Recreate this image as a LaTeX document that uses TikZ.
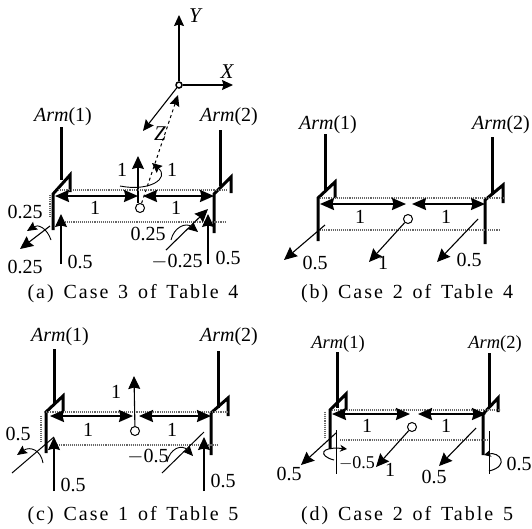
\documentclass[tikz,border=0pt]{standalone}
\usepackage{fontspec}
\setmainfont{Liberation Serif}
\newfontfamily\capfont[LetterSpace=10,WordSpace=1.4]{Liberation Serif}
\usetikzlibrary{arrows.meta}
\tikzset{
  x=1pt,y=-1pt,
  lab/.style={inner sep=0pt,font=\fontsize{20}{20}\selectfont},
  itlab/.style={inner sep=0pt,font=\itshape\fontsize{21}{21}\selectfont},
  armlab/.style={inner sep=0pt,font=\fontsize{20}{20}\selectfont},
  armlabs/.style={inner sep=0pt,font=\fontsize{18.5}{18.5}\selectfont},
  caplab/.style={inner sep=0pt,font=\capfont\fontsize{20}{20}\selectfont},
  limb/.style={line width=3pt,line join=miter},
  bigtip/.style={-{Stealth[length=13pt,width=12pt,inset=1.5pt]},line width=1.1pt},
  midtip/.style={-{Stealth[length=11pt,width=10pt,inset=1.5pt]},line width=1.1pt},
  momenttip/.style={-{Stealth[length=10pt,width=9pt,inset=1.5pt]},line width=.9pt},
  spanarrow/.style={{Stealth[length=14pt,width=12pt,inset=1.5pt]}-{Stealth[length=14pt,width=12pt,inset=1.5pt]},line width=2pt},
  thinline/.style={line width=1pt},
  moment/.style={line width=1pt},
  guide/.style={line width=1.1pt,black!60,densely dotted},
  hub/.style={circle,draw,line width=1pt,fill=white,minimum size=9pt,inner sep=0pt},
}
\begin{document}
\begin{tikzpicture}
\useasboundingbox (0,0) rectangle (532,528);
% ---------- (a) ----------
\node[hub,minimum size=6pt,line width=1.5pt] (o) at (179,85) {};
\draw[midtip] (o) -- (179,15);
\draw[midtip] (o) -- (233,85);
\draw[midtip] (o) -- (143,131);
\node[itlab] (ly) at (195,16) {Y};
\node[itlab] (lx) at (227,72) {X};
\node[itlab] (lz) at (160,134) {Z};
\node[hub] (ca) at (140,208) {};
\draw[midtip,dashed,line width=1pt] (ca) -- (178,95);
\draw[momenttip] (120,186) .. controls (150,192) and (170,178) .. (152,163);
\draw[bigtip] (138,203) -- (138,156);
\node[lab] (a1) at (122,170) {1};
\node[lab] (a2) at (172,170) {1};
\node[armlab] (aa1) at (63,117) {\textit{Arm}(1)};
\node[armlab] (aa2) at (229,117) {\textit{Arm}(2)};
\draw[limb] (61,127) -- (61,180);
\draw[limb] (53,230) -- (53,194) -- (70,175) -- (70,192);
\draw[limb] (220,130) -- (220,186);
\draw[limb] (214,233) -- (214,194) -- (231,177) -- (231,193);
\draw[guide] (58,190) -- (228,190);
\draw[guide] (65,222) -- (226,222);
\draw[guide] (50,195) -- (50,218);
\draw[spanarrow] (55,196) -- (138,196);
\draw[spanarrow] (143,196) -- (214,196);
\node[lab] (a3) at (95,208) {1};
\node[lab] (a4) at (176,208) {1};
\node[lab] (a5) at (25,212) {0.25};
\node[lab] (a6) at (25,267) {0.25};
\node[lab] (a7) at (80,262) {0.5};
\node[lab] (a8) at (228,258) {0.5};
\node[lab] (a9) at (148,234) {0.25};
\node[lab] (a10) at (177,262) {$-$0.25};
\draw[bigtip] (61,264) -- (61,214);
\draw[bigtip] (208,264) -- (208,214);
\draw[bigtip] (50,226) -- (20,249);
\draw[momenttip] (51,240) .. controls (47,228) and (38,224) .. (27,231);
\draw[bigtip] (166,250) -- (208,209);
\draw[momenttip] (171,240) .. controls (174,227) and (186,222) .. (198,232);
\node[caplab] (capa) at (133,294) {(a) Case 3 of Table 4};
% ---------- (b) ----------
\node[armlab] (ba1) at (328,125) {\textit{Arm}(1)};
\node[armlab] (ba2) at (501,125) {\textit{Arm}(2)};
\draw[limb] (325,134) -- (325,190);
\draw[limb] (318,241) -- (318,198) -- (335,182) -- (335,198);
\draw[limb] (492,137) -- (492,195);
\draw[limb] (485,244) -- (485,200) -- (503,185) -- (503,203);
\draw[guide] (320,198) -- (503,198);
\draw[guide] (320,230) -- (500,230);
\draw[spanarrow] (320,204) -- (406,204);
\draw[spanarrow] (412,204) -- (485,204);
\node[hub] (cb) at (408,219) {};
\draw[bigtip] (325,225) -- (284,260);
\draw[bigtip] (cb) -- (369,262);
\draw[bigtip] (478,219) -- (437,262);
\node[lab] (b1) at (360,217) {1};
\node[lab] (b2) at (446,217) {1};
\node[lab] (b3) at (315,263) {0.5};
\node[lab] (b4) at (383,263) {1};
\node[lab] (b5) at (469,260) {0.5};
\node[caplab] (capb) at (407,294) {(b) Case 2 of Table 4};
% ---------- (c) ----------
\node[armlab] (ca1) at (60,337) {\textit{Arm}(1)};
\node[armlab] (ca2) at (229,337) {\textit{Arm}(2)};
\draw[limb] (54,349) -- (54,405);
\draw[limb] (46,453) -- (46,412) -- (63,396) -- (63,411);
\draw[limb] (218,351) -- (218,408);
\draw[limb] (211,455) -- (211,413) -- (228,398) -- (228,416);
\draw[guide] (44,412) -- (230,412);
\draw[guide] (55,445) -- (218,445);
\draw[guide] (41,416) -- (41,442);
\draw[spanarrow] (50,416) -- (133,416);
\draw[spanarrow] (139,416) -- (211,416);
\node[hub] (cc) at (135,431) {};
\draw[bigtip] (cc) -- (134,376);
\node[lab] (c1) at (116,392) {1};
\node[lab] (c2) at (88,430) {1};
\node[lab] (c3) at (172,430) {1};
\node[lab] (c4) at (18,434) {0.5};
\node[lab] (c5) at (73,485) {0.5};
\node[lab] (c6) at (223,481) {0.5};
\node[lab] (c7) at (148,457) {$-$0.5};
\draw[bigtip] (54,491) -- (54,437);
\draw[bigtip] (204,491) -- (204,437);
\draw[thinline] (12,473) -- (54,437);
\draw[thinline] (162,473) -- (204,432);
\draw[momenttip] (43,463) .. controls (41,450) and (30,446) .. (17,455);
\draw[momenttip] (167,462) .. controls (170,448) and (182,444) .. (193,456);
\node[caplab] (capc) at (133,516) {(c) Case 1 of Table 5};
% ---------- (d) ----------
\node[armlabs] (da1) at (338,344) {\textit{Arm}(1)};
\node[armlabs] (da2) at (495,344) {\textit{Arm}(2)};
\draw[limb] (337,352) -- (337,408);
\draw[limb] (330,449) -- (330,410) -- (346,394) -- (346,410);
\draw[limb] (489,353) -- (489,408);
\draw[limb] (483,455) -- (483,414) -- (498,398) -- (498,412);
\draw[guide] (332,410) -- (500,410);
\draw[guide] (340,440) -- (490,440);
\draw[guide] (325,412) -- (325,438);
\draw[spanarrow] (332,414) -- (410,414);
\draw[spanarrow] (418,414) -- (486,414);
\node[hub] (cd) at (412,427) {};
\draw[bigtip] (336,433) -- (301,465);
\draw[bigtip] (cd) -- (376,467);
\draw[bigtip] (476,428) -- (439,466);
\draw[thinline] (336,430) -- (336,474);
\draw[thinline] (489,431) -- (489,474);
\draw[-{Stealth[length=7pt,width=7pt]},moment] (334,460) .. controls (318,456) and (320,446) .. (347,449);
\draw[{Stealth[length=7pt,width=7pt]}-,moment] (484,455) .. controls (500,451) and (510,466) .. (489,471);
\node[lab,font=\fontsize{18}{18}\selectfont] (d1) at (357,463) {$-$0.5};
\node[lab] (d2) at (519,464) {0.5};
\node[lab] (d3) at (289,474) {0.5};
\node[lab] (d4) at (390,470) {1};
\node[lab] (d5) at (434,477) {0.5};
\node[lab] (d6) at (367,426) {1};
\node[lab] (d7) at (446,426) {1};
\node[caplab] (capd) at (407,516) {(d) Case 2 of Table 5};
\end{tikzpicture}
\end{document}
